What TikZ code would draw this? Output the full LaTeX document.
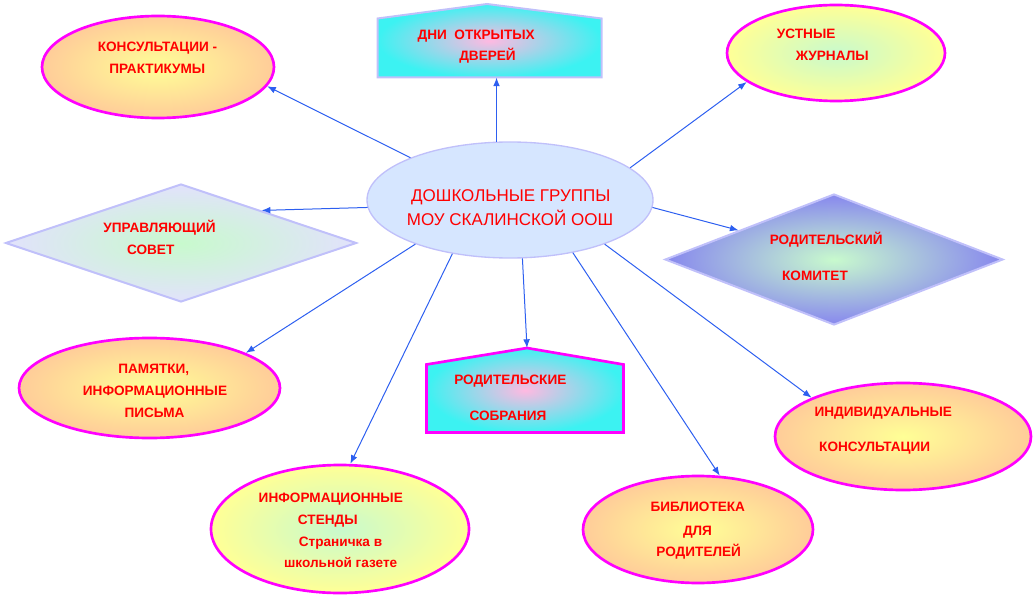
\documentclass[tikz,border=0pt]{standalone}
\usepackage{fontspec}
\setmainfont{Liberation Sans}
\usetikzlibrary{shapes.geometric,arrows.meta}

\definecolor{magc}{RGB}{255,0,255}
\definecolor{lavc}{RGB}{192,192,250}
\definecolor{peach}{RGB}{255,204,153}
\definecolor{lemon}{RGB}{255,255,150}
\definecolor{mint}{RGB}{200,250,205}
\definecolor{aqua}{RGB}{60,242,242}
\definecolor{pinkc}{RGB}{255,185,225}
\definecolor{skyc}{RGB}{214,230,255}
\definecolor{dotblue}{RGB}{135,135,238}
\definecolor{paleblue}{RGB}{226,226,252}
\definecolor{arrblue}{RGB}{45,95,240}
\definecolor{txtred}{RGB}{255,0,0}

\tikzset{every picture/.style={line width=0.75pt}}
\tikzset{
  oval/.style={ellipse, draw=magc, line width=2pt, inner sep=0pt},
  rhomb/.style={diamond, draw=lavc, line width=1.5pt, inner sep=0pt},
  body/.style={inner sep=0pt},
  roof/.style={draw, line width=2pt, line join=miter},
  arr/.style={draw=arrblue, line width=0.75pt, -{Latex[length=6.5pt,width=5pt]}},
  lbl/.style={text=txtred, font=\bfseries\fontsize{10.2}{12}\selectfont, inner sep=0.75pt, anchor=base},
  ttl/.style={lbl, font=\fontsize{12.75}{15}\selectfont},
}

\begin{document}
\begin{tikzpicture}[x=0.75pt,y=0.75pt,yscale=-1,xscale=1]
\path[use as bounding box] (0,0) rectangle (1034,602);

%Shape: Ellipse [centre]
\node [oval, draw=lavc, line width=1pt, fill=skyc, minimum width=214.5pt, minimum height=87pt] (c) at (510,200) {};
%Shape: Ellipse
\node [oval, shade, inner color=lemon, outer color=peach, minimum width=174pt, minimum height=76.5pt] (k) at (158,67) {};
%Shape: Ellipse
\node [oval, shade, inner color=mint, outer color=lemon, minimum width=163.5pt, minimum height=72pt] (u) at (836,53) {};
%Shape: Ellipse
\node [oval, shade, inner color=lemon, outer color=peach, minimum width=195.75pt, minimum height=75pt] (p) at (149.5,388) {};
%Shape: Ellipse
\node [oval, shade, inner color=lemon, outer color=peach, minimum width=192pt, minimum height=80.25pt] (i) at (903,436.5) {};
%Shape: Ellipse
\node [oval, shade, inner color=lemon, outer color=peach, minimum width=172.5pt, minimum height=80.25pt] (b) at (698,529.5) {};
%Shape: Ellipse
\node [oval, shade, inner color=mint, outer color=lemon, minimum width=193.5pt, minimum height=96pt] (s) at (340,529) {};
%Shape: Diamond
\node [rhomb, shade, inner color=mint, outer color=paleblue, minimum width=263.25pt, minimum height=88.5pt] (us) at (181,243) {};
%Shape: Diamond
\node [rhomb, shade, inner color=mint, outer color=dotblue, minimum width=253.5pt, minimum height=98.25pt] (rk) at (834,259.5) {};

%Shape: House
\node [body, minimum width=167.25pt, minimum height=43.5pt] (d) at (489.5,48) {};
\coordinate (dtop) at (487,4);
\draw [roof, draw=lavc, line width=1.5pt, shade, inner color=pinkc, outer color=aqua] (d.south west) -- (d.north west) -- (dtop) -- (d.north east) -- (d.south east) -- cycle ;
%Shape: House
\node [body, minimum width=147pt, minimum height=50.25pt] (sb) at (525,398.5) {};
\coordinate (sbtop) at (527,348);
\draw [roof, draw=magc, shade, inner color=pinkc, outer color=aqua] (sb.south west) -- (sb.north west) -- (sbtop) -- (sb.north east) -- (sb.south east) -- cycle ;

%Arrows
\draw [arr] (c.157) -- (k.-10);
\draw [arr] (c.103) -- (c.103 |- d.south);
\draw [arr] (c.15) -- (u.198);
\draw [arr] (c.183) -- (us.22);
\draw [arr] (c.-3) -- (rk.163);
\draw [arr] (c.205) -- (p.20);
\draw [arr] (c.223) -- (s.81);
\draw [arr] (c.-78) -- (sbtop);
\draw [arr] (c.-40) -- (b.68);
\draw [arr] (c.-25) -- (i.157);

% Text Node
\node [lbl] (k1) at (157.5,51.7) {КОНСУЛЬТАЦИИ -};
\node [lbl] (k2) at (157.3,74) {ПРАКТИКУМЫ};
% Text Node
\node [lbl] (d1) at (476.2,39.3) {ДНИ\ \ ОТКРЫТЫХ};
\node [lbl] (d2) at (487.5,60.7) {ДВЕРЕЙ};
% Text Node
\node [lbl] (u1) at (806.2,38.3) {УСТНЫЕ};
\node [lbl] (u2) at (832.2,61) {ЖУРНАЛЫ};
% Text Node
\node [ttl] (c1) at (510.8,201.7) {ДОШКОЛЬНЫЕ ГРУППЫ};
\node [ttl] (c2) at (510,225.7) {МОУ СКАЛИНСКОЙ ООШ};
% Text Node
\node [lbl] (us1) at (159.5,232.7) {УПРАВЛЯЮЩИЙ};
\node [lbl] (us2) at (150.7,254) {СОВЕТ};
% Text Node
\node [lbl] (rk1) at (826.2,244) {РОДИТЕЛЬСКИЙ};
\node [lbl] (rk2) at (815,280) {КОМИТЕТ};
% Text Node
\node [lbl] (p1) at (153.8,373.3) {ПАМЯТКИ,};
\node [lbl] (p2) at (155,395) {ИНФОРМАЦИОННЫЕ};
\node [lbl] (p3) at (154.5,417.7) {ПИСЬМА};
% Text Node
\node [lbl] (sb1) at (510.3,384.3) {РОДИТЕЛЬСКИЕ};
\node [lbl] (sb2) at (508,420) {СОБРАНИЯ};
% Text Node
\node [lbl] (i1) at (883.3,416.7) {ИНДИВИДУАЛЬНЫЕ};
\node [lbl] (i2) at (874.7,451.7) {КОНСУЛЬТАЦИИ};
% Text Node
\node [lbl] (b1) at (697.8,511.7) {БИБЛИОТЕКА};
\node [lbl] (b2) at (697.5,535) {ДЛЯ};
\node [lbl] (b3) at (698.7,556) {РОДИТЕЛЕЙ};
% Text Node
\node [lbl] (s1) at (330.8,502.3) {ИНФОРМАЦИОННЫЕ};
\node [lbl] (s2) at (327.8,524.3) {СТЕНДЫ};
\node [lbl] (s3) at (340.5,546) {Страничка в};
\node [lbl] (s4) at (340.7,567.3) {школьной газете};

\end{tikzpicture}
\end{document}
